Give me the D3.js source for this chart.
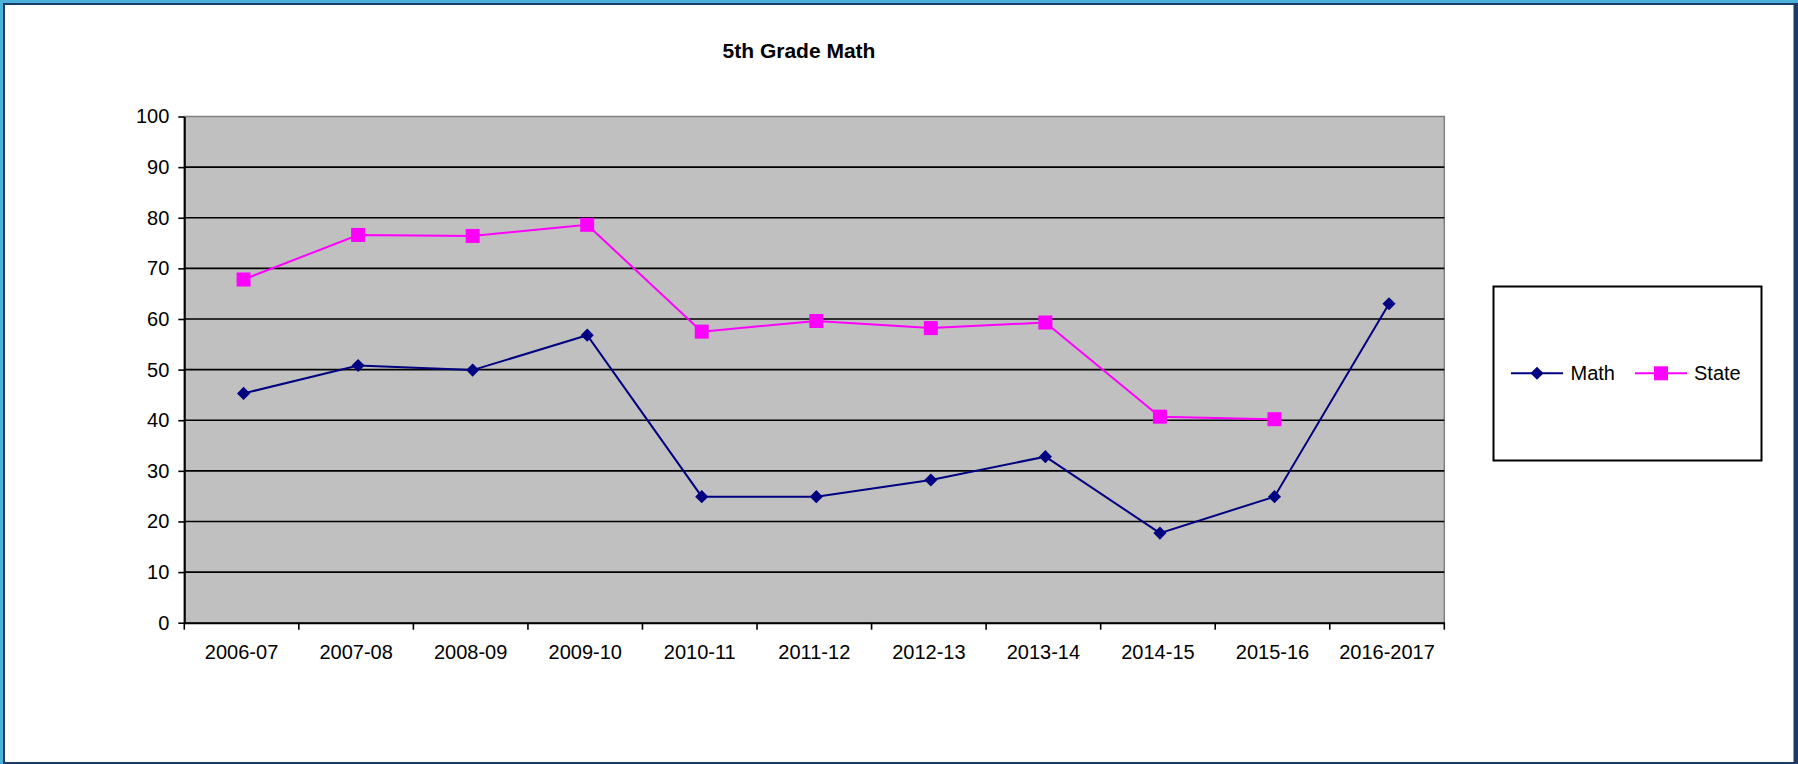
<!DOCTYPE html>
<html lang="en">
	<head>
		<meta charset="utf-8">
		<title>5th Grade Math</title>
		<style type="text/css">
			body { margin: 0; background: #fff; }
			svg { display: block; font-family: Arial, "Liberation Sans", sans-serif; }
		</style>
	</head>
	<body>
		<script src="https://d3js.org/d3.v7.min.js"></script>
		<script>
			//Width and height
			var w = 1798;
			var h = 764;

			var years = ["2006-07", "2007-08", "2008-09", "2009-10", "2010-11", "2011-12",
						 "2012-13", "2013-14", "2014-15", "2015-16", "2016-2017"];
			var mathScores = [45.3, 50.8, 49.9, 56.8, 24.9, 24.9, 28.2, 32.8, 17.7, 24.9, 63.0];
			var stateScores = [67.8, 76.6, 76.4, 78.6, 57.5, 59.6, 58.2, 59.3, 40.7, 40.2, null];
			var yTicks = [0, 10, 20, 30, 40, 50, 60, 70, 80, 90, 100];

			//Plot area bounds (avoid "top", it is a window property)
			var plotL = 184.3, plotR = 1444.3, plotT = 116.5, plotB = 622.7;

			var xScale = d3.scaleBand()
							.domain(years)
							.range([plotL, plotR]);
			var yScale = d3.scaleLinear()
							.domain([0, 100])
							.range([plotB, plotT]);

			var svg = d3.select("body")
						.append("svg")
						.attr("width", w)
						.attr("height", h);

			//Frame
			svg.append("rect").attr("width", w).attr("height", h).attr("fill", "#4ab2d9");
			svg.append("rect").attr("x", 3).attr("y", 3).attr("width", w - 3).attr("height", h - 3).attr("fill", "#1b3c6b");
			svg.append("rect").attr("x", 5).attr("y", 5).attr("width", 1789).attr("height", 757).attr("fill", "#fff");
			svg.append("line").attr("x1", 1793.5).attr("x2", 1793.5).attr("y1", 5).attr("y2", 762)
				.attr("stroke", "#9a9a9a").attr("stroke-width", 1);

			//Title
			svg.append("text")
				.attr("x", 799)
				.attr("y", 58)
				.attr("text-anchor", "middle")
				.attr("font-size", "21px")
				.attr("font-weight", "bold")
				.text("5th Grade Math");

			//Plot area
			svg.append("rect")
				.attr("x", plotL).attr("y", plotT)
				.attr("width", plotR - plotL).attr("height", plotB - plotT)
				.attr("fill", "#c0c0c0")
				.attr("stroke", "#808080")
				.attr("stroke-width", 1.5);

			//Gridlines
			svg.selectAll(".grid")
			   .data(yTicks.filter(function(d) { return d > 0 && d < 100; }))
			   .enter()
			   .append("line")
			   .attr("class", "grid")
			   .attr("x1", plotL).attr("x2", plotR)
			   .attr("y1", function(d) { return yScale(d); })
			   .attr("y2", function(d) { return yScale(d); })
			   .attr("stroke", "#000")
			   .attr("stroke-width", 1.6);

			//Y axis
			var yAxis = svg.append("g")
				.attr("transform", "translate(" + plotL + ",0)")
				.call(d3.axisLeft(yScale).tickValues(yTicks).tickSize(6).tickSizeOuter(0).tickPadding(9));
			yAxis.select(".domain").attr("stroke", "#000").attr("stroke-width", 2);
			yAxis.selectAll(".tick line").attr("stroke", "#000").attr("stroke-width", 1.6);
			yAxis.selectAll("text").attr("font-size", "20px").attr("font-family", "Arial, 'Liberation Sans', sans-serif").attr("fill", "#000");

			//X axis
			var xAxis = svg.append("g")
				.attr("transform", "translate(0," + plotB + ")")
				.call(d3.axisBottom(xScale).tickSize(0).tickPadding(22));
			xAxis.select(".domain").attr("stroke", "#000").attr("stroke-width", 2);
			xAxis.selectAll("text").attr("font-size", "20px").attr("font-family", "Arial, 'Liberation Sans', sans-serif").attr("fill", "#000");
			//Category boundary ticks
			xAxis.selectAll(".bound")
				.data(years.concat(["end"]))
				.enter()
				.append("line")
				.attr("class", "bound")
				.attr("x1", function(d, i) { return i < years.length ? xScale(d) : plotR; })
				.attr("x2", function(d, i) { return i < years.length ? xScale(d) : plotR; })
				.attr("y1", 0).attr("y2", 7)
				.attr("stroke", "#000").attr("stroke-width", 1.6);

			//Points sit a hair right of the label centres, as in the original
			var cx = function(d, i) { return xScale(years[i]) + xScale.bandwidth() / 2 + 2; };

			//Lines
			var line = d3.line()
				.defined(function(d) { return d !== null; })
				.x(cx)
				.y(function(d) { return yScale(d); });

			svg.append("path").datum(mathScores)
				.attr("d", line).attr("fill", "none")
				.attr("stroke", "#000080").attr("stroke-width", 2);
			svg.append("path").datum(stateScores)
				.attr("d", line).attr("fill", "none")
				.attr("stroke", "#ff00ff").attr("stroke-width", 2);

			//Markers
			var diamond = d3.symbol().type(d3.symbolDiamond2).size(110);
			svg.selectAll(".math")
			   .data(mathScores)
			   .enter()
			   .append("path")
			   .attr("class", "math")
			   .attr("d", diamond)
			   .attr("transform", function(d, i) { return "translate(" + cx(d, i) + "," + yScale(d) + ")"; })
			   .attr("fill", "#000080");
			svg.selectAll(".state")
			   .data(stateScores.map(function(d, i) { return [d, i]; }).filter(function(p) { return p[0] !== null; }))
			   .enter()
			   .append("rect")
			   .attr("class", "state")
			   .attr("x", function(p) { return cx(p[0], p[1]) - 7; })
			   .attr("y", function(p) { return yScale(p[0]) - 7; })
			   .attr("width", 14).attr("height", 14)
			   .attr("fill", "#ff00ff");

			//Legend
			var lg = svg.append("g");
			lg.append("rect")
				.attr("x", 1493.5).attr("y", 286.5)
				.attr("width", 268).attr("height", 174)
				.attr("fill", "#fff").attr("stroke", "#000").attr("stroke-width", 2);
			var items = [
				{ name: "Math", color: "#000080", x1: 1511, x2: 1563, tx: 1570.5 },
				{ name: "State", color: "#ff00ff", x1: 1635, x2: 1687, tx: 1694 }
			];
			var ly = 373.3;
			items.forEach(function(it) {
				lg.append("line").attr("x1", it.x1).attr("x2", it.x2).attr("y1", ly).attr("y2", ly)
					.attr("stroke", it.color).attr("stroke-width", 2);
				var mid = (it.x1 + it.x2) / 2;
				if (it.name === "Math") {
					lg.append("path").attr("d", diamond).attr("transform", "translate(" + mid + "," + ly + ")").attr("fill", it.color);
				} else {
					lg.append("rect").attr("x", mid - 7).attr("y", ly - 7).attr("width", 14).attr("height", 14).attr("fill", it.color);
				}
				lg.append("text").attr("x", it.tx).attr("y", ly + 7)
					.attr("font-size", "20px").text(it.name);
			});
		</script>
	</body>
</html>
